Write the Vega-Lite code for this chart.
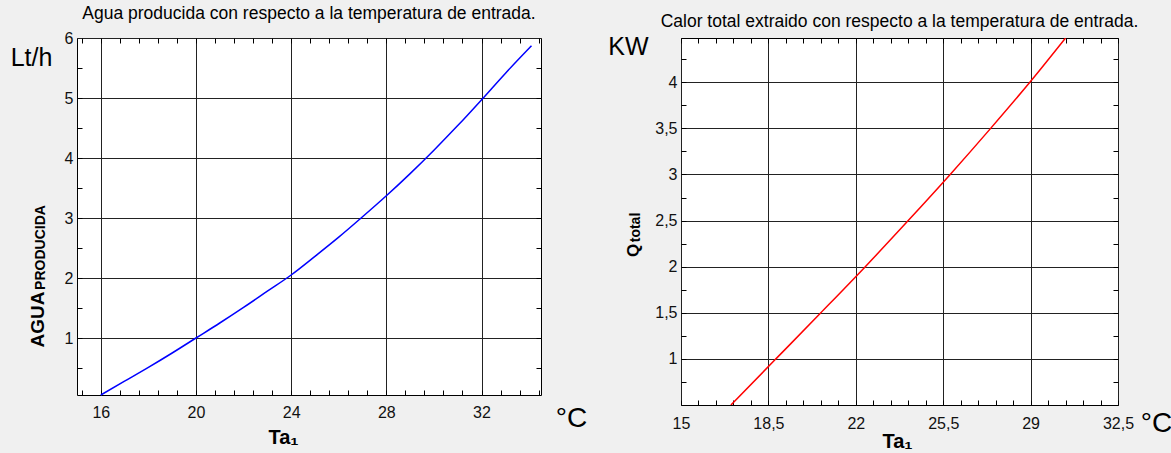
{
  "$schema": "https://vega.github.io/schema/vega-lite/v6.json",
  "background": "#f0f0f0",
  "autosize": {"type": "none"},
  "padding": {"left": 77, "top": 38, "right": 53, "bottom": 48},
  "params": [{"name": "width", "value": 1041}, {"name": "height", "value": 367}],
  "bounds": "flush",
  "spacing": 140,
  "datasets": {
    "agua": [
      {"t": 16, "v": 0.05}, {"t": 17, "v": 0.28}, {"t": 18, "v": 0.51}, {"t": 19, "v": 0.75},
      {"t": 20, "v": 1.0}, {"t": 21, "v": 1.25}, {"t": 22, "v": 1.51}, {"t": 23, "v": 1.78},
      {"t": 24, "v": 2.05}, {"t": 25, "v": 2.36}, {"t": 26, "v": 2.68}, {"t": 27, "v": 3.02},
      {"t": 28, "v": 3.37}, {"t": 29, "v": 3.74}, {"t": 30, "v": 4.13}, {"t": 31, "v": 4.54},
      {"t": 32, "v": 4.97}, {"t": 33, "v": 5.41}, {"t": 34.1, "v": 5.87}
    ],
    "calor": [
      {"t": 17.0, "q": 0.5}, {"t": 18.8, "q": 1.0}, {"t": 20.6, "q": 1.5}, {"t": 22.38, "q": 2.0},
      {"t": 24.1, "q": 2.5}, {"t": 25.78, "q": 3.0}, {"t": 27.4, "q": 3.5}, {"t": 28.97, "q": 4.0},
      {"t": 30.4, "q": 4.48}
    ]
  },
  "config": {
    "view": {"stroke": "#000000", "fill": "#ffffff", "strokeWidth": 1},
    "axis": {
      "domain": false,
      "labelFont": "Liberation Sans, Arial",
      "labelFontSize": 16,
      "labelColor": "#111111",
      "labelFlush": false,
      "labelOverlap": false,
      "labelBound": false,
      "titleFont": "Liberation Sans, Arial",
      "titleColor": "#000000",
      "gridColor": "#222222",
      "gridOpacity": 1,
      "gridWidth": 1,
      "tickColor": "#000000",
      "tickWidth": 1
    },
    "title": {
      "font": "Liberation Sans, Arial",
      "fontSize": 17.5,
      "fontWeight": "normal",
      "color": "#000000",
      "anchor": "middle"
    }
  },
  "hconcat": [
    {
      "width": 464,
      "height": 357,
      "title": {"text": "Agua producida con respecto a la temperatura de entrada.", "offset": 8},
      "data": {"name": "agua"},
      "resolve": {"axis": {"x": "independent", "y": "independent"}},
      "layer": [
        {
          "mark": {"type": "line", "color": "#0000ff", "strokeWidth": 1.5, "interpolate": "monotone"},
          "encoding": {
            "x": {"field": "t", "type": "quantitative", "scale": {"domain": [15, 34.5], "nice": false, "zero": false},
              "axis": {"orient": "bottom", "values": [16, 20, 24, 28, 32], "grid": true, "ticks": false, "labelPadding": 9,
                "title": "Ta₁", "titleFontSize": 20, "titleFontWeight": "bold", "titleX": 206, "titleY": 42, "titleAlign": "center", "titleBaseline": "middle"}},
            "y": {"field": "v", "type": "quantitative", "scale": {"domain": [0.05, 6], "nice": false, "zero": false},
              "axis": {"orient": "left", "values": [1, 2, 3, 4, 5, 6], "grid": true, "ticks": false, "labelPadding": 4,
                "title": "AGUA", "titleFontSize": 19, "titleFontWeight": "bold", "titleAngle": -90, "titleX": -40, "titleY": 281, "titleAlign": "center", "titleBaseline": "middle"}}
          }
        },
        {
          "mark": {"type": "line", "opacity": 0},
          "encoding": {
            "x": {"field": "t", "type": "quantitative",
              "axis": {"orient": "bottom", "values": [15.2, 16, 16.8, 17.6, 18.4, 19.2, 20, 20.8, 21.6, 22.4, 23.2, 24, 24.8, 25.6, 26.4, 27.2, 28, 28.8, 29.6, 30.4, 31.2, 32, 32.8, 33.6, 34.4],
                "grid": false, "labels": false, "tickSize": -5,
                "title": "°C", "titleFontSize": 28, "titleFontWeight": "normal", "titleX": 494, "titleY": 23, "titleAlign": "center", "titleBaseline": "middle"}},
            "y": {"field": "v", "type": "quantitative",
              "axis": {"orient": "left", "values": [0.5, 1, 1.5, 2, 2.5, 3, 3.5, 4, 4.5, 5, 5.5], "grid": false, "labels": false, "tickSize": -5,
                "title": "PRODUCIDA", "titleFontSize": 14, "titleFontWeight": "bold", "titleAngle": -90, "titleX": -37, "titleY": 209, "titleAlign": "center", "titleBaseline": "middle"}}
          }
        },
        {
          "mark": {"type": "line", "opacity": 0},
          "encoding": {
            "x": {"field": "t", "type": "quantitative",
              "axis": {"orient": "top", "values": [15.2, 16, 16.8, 17.6, 18.4, 19.2, 20, 20.8, 21.6, 22.4, 23.2, 24, 24.8, 25.6, 26.4, 27.2, 28, 28.8, 29.6, 30.4, 31.2, 32, 32.8, 33.6, 34.4],
                "grid": false, "labels": false, "tickSize": -5, "title": null}},
            "y": {"field": "v", "type": "quantitative",
              "axis": {"orient": "right", "values": [0.5, 1, 1.5, 2, 2.5, 3, 3.5, 4, 4.5, 5, 5.5], "grid": false, "labels": false, "tickSize": -5, "title": null}}
          }
        },
        {
          "mark": {"type": "line", "opacity": 0},
          "encoding": {
            "x": {"field": "t", "type": "quantitative", "axis": null},
            "y": {"field": "v", "type": "quantitative",
              "axis": {"orient": "left", "values": [], "grid": false, "labels": false, "ticks": false,
                "title": "Lt/h", "titleFontSize": 25, "titleFontWeight": "normal", "titleAngle": 0, "titleX": -46, "titleY": 19, "titleAlign": "center", "titleBaseline": "middle"}}
          }
        }
      ]
    },
    {
      "width": 437,
      "height": 367,
      "title": {"text": "Calor total extraido con respecto a la temperatura de entrada.", "offset": 4},
      "data": {"name": "calor"},
      "resolve": {"axis": {"x": "independent", "y": "independent"}},
      "layer": [
        {
          "mark": {"type": "line", "color": "#ff0000", "strokeWidth": 1.5, "interpolate": "monotone", "clip": true},
          "encoding": {
            "x": {"field": "t", "type": "quantitative", "scale": {"domain": [15, 32.5], "nice": false, "zero": false},
              "axis": {"orient": "bottom", "values": [15, 18.5, 22, 25.5, 29, 32.5], "grid": true, "ticks": false, "labelPadding": 10,
                "labelExpr": "replace(format(datum.value, '~g'), '.', ',')",
                "title": "Ta₁", "titleFontSize": 20, "titleFontWeight": "bold", "titleX": 216, "titleY": 36, "titleAlign": "center", "titleBaseline": "middle"}},
            "y": {"field": "q", "type": "quantitative", "scale": {"domain": [0.5, 4.48], "nice": false, "zero": false},
              "axis": {"orient": "left", "values": [1, 1.5, 2, 2.5, 3, 3.5, 4], "grid": true, "ticks": false, "labelPadding": 4,
                "labelExpr": "replace(format(datum.value, '~g'), '.', ',')",
                "title": "Q", "titleFontSize": 17, "titleFontWeight": "bold", "titleAngle": -90, "titleX": -48, "titleY": 212, "titleAlign": "center", "titleBaseline": "middle"}}
          }
        },
        {
          "mark": {"type": "line", "opacity": 0},
          "encoding": {
            "x": {"field": "t", "type": "quantitative",
              "axis": {"orient": "bottom", "values": [15, 15.7, 16.4, 17.1, 17.8, 18.5, 19.2, 19.9, 20.6, 21.3, 22, 22.7, 23.4, 24.1, 24.8, 25.5, 26.2, 26.9, 27.6, 28.3, 29, 29.7, 30.4, 31.1, 31.8, 32.5],
                "grid": false, "labels": false, "tickSize": -5,
                "title": "°C", "titleFontSize": 28, "titleFontWeight": "normal", "titleX": 475, "titleY": 18, "titleAlign": "center", "titleBaseline": "middle"}},
            "y": {"field": "q", "type": "quantitative",
              "axis": {"orient": "left", "values": [0.75, 1, 1.25, 1.5, 1.75, 2, 2.25, 2.5, 2.75, 3, 3.25, 3.5, 3.75, 4, 4.25], "grid": false, "labels": false, "tickSize": -5,
                "title": "total", "titleFontSize": 14, "titleFontWeight": "bold", "titleAngle": -90, "titleX": -46, "titleY": 189, "titleAlign": "center", "titleBaseline": "middle"}}
          }
        },
        {
          "mark": {"type": "line", "opacity": 0},
          "encoding": {
            "x": {"field": "t", "type": "quantitative",
              "axis": {"orient": "top", "values": [15, 15.7, 16.4, 17.1, 17.8, 18.5, 19.2, 19.9, 20.6, 21.3, 22, 22.7, 23.4, 24.1, 24.8, 25.5, 26.2, 26.9, 27.6, 28.3, 29, 29.7, 30.4, 31.1, 31.8, 32.5],
                "grid": false, "labels": false, "tickSize": -5, "title": null}},
            "y": {"field": "q", "type": "quantitative",
              "axis": {"orient": "right", "values": [0.75, 1, 1.25, 1.5, 1.75, 2, 2.25, 2.5, 2.75, 3, 3.25, 3.5, 3.75, 4, 4.25], "grid": false, "labels": false, "tickSize": -5, "title": null}}
          }
        },
        {
          "mark": {"type": "line", "opacity": 0},
          "encoding": {
            "x": {"field": "t", "type": "quantitative", "axis": null},
            "y": {"field": "q", "type": "quantitative",
              "axis": {"orient": "left", "values": [], "grid": false, "labels": false, "ticks": false,
                "title": "KW", "titleFontSize": 25, "titleFontWeight": "normal", "titleAngle": 0, "titleX": -53, "titleY": 8, "titleAlign": "center", "titleBaseline": "middle"}}
          }
        }
      ]
    }
  ]
}
